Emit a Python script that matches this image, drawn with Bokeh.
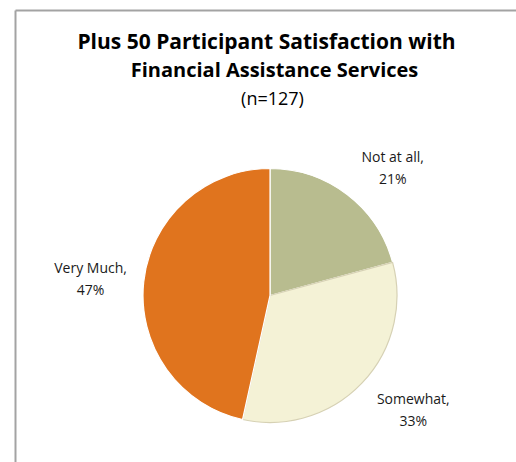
import math
from bokeh.plotting import figure
from bokeh.models import Range1d, Label, ColumnDataSource
from bokeh.core.properties import value
from bokeh.embed import file_html
from bokeh.resources import INLINE

# ---- data ----
categories = ["Not at all", "Somewhat", "Very Much"]
percents = [21, 33, 47]
colors = ["#B8BC8F", "#F4F2D6", "#E0741E"]
edge_colors = ["#FFFFFF", "#D6D1B4", "#FFFFFF"]
title_lines = ["Plus 50 Participant Satisfaction with", "Financial Assistance Services"]
subtitle = "(n=127)"

# ---- layout constants ----
W, H = 516, 462
CX, CY, R = 269.5, 167.0, 127.0
LABEL_R = 178.0
label_nudge = [(14.5, -13.0), (14.5, 8.6), (-2.5, -2.0)]
FONT = "Open Sans"

total = float(sum(percents))
starts, ends, lx, ly, texts = [], [], [], [], []
cum = 0.0
for i, v in enumerate(percents):
    f0 = cum / total
    cum += v
    f1 = cum / total
    starts.append(math.pi / 2 - 2 * math.pi * f1)
    ends.append(math.pi / 2 - 2 * math.pi * f0)
    mid = (f0 + f1) / 2 * 2 * math.pi  # clockwise from north
    lx.append(CX + LABEL_R * math.sin(mid) + label_nudge[i][0])
    ly.append(CY + LABEL_R * math.cos(mid) + label_nudge[i][1])
    texts.append(f"{categories[i]},\n{v}%")

src = ColumnDataSource(dict(start=starts, end=ends, color=colors, edge=edge_colors,
                            x=[CX] * 3, y=[CY] * 3, lx=lx, ly=ly, text=texts,
                            cat=categories, pct=percents))

p = figure(width=W, height=H, output_backend="svg", toolbar_location=None,
           x_range=Range1d(0, W), y_range=Range1d(0, H), min_border=0,
           tools="")
p.axis.visible = False
p.xgrid.visible = False
p.ygrid.visible = False
p.outline_line_color = None
p.background_fill_color = "white"
p.border_fill_color = "white"

# frame border (left and top edges of the exhibit box)
p.segment(x0=[15, 15], y0=[-20, 452], x1=[15, W + 20], y1=[452, 452],
          line_color="#A3A3A3", line_width=2)

p.wedge(x="x", y="y", radius=R, start_angle="start", end_angle="end",
        fill_color="color", line_color="edge", line_width=1.2, source=src)

p.text(x="lx", y="ly", text="text", source=src, text_font=value(FONT),
       text_font_size="14px", text_color="#1a1a1a", text_align="center",
       text_baseline="middle", text_line_height=1.15)

# titles
p.add_layout(Label(x=266, y=H - 40, text=title_lines[0], text_font=FONT,
                   text_font_size="21px", text_font_style="bold",
                   text_align="center", text_baseline="middle", text_color="#000000"))
p.add_layout(Label(x=274, y=H - 69, text=title_lines[1], text_font=FONT,
                   text_font_size="20px", text_font_style="bold",
                   text_align="center", text_baseline="middle", text_color="#000000"))
p.add_layout(Label(x=272, y=H - 97, text=subtitle, text_font=FONT,
                   text_font_size="18px", text_align="center",
                   text_baseline="middle", text_color="#000000"))

open("out.html", "w").write(file_html(p, INLINE))
